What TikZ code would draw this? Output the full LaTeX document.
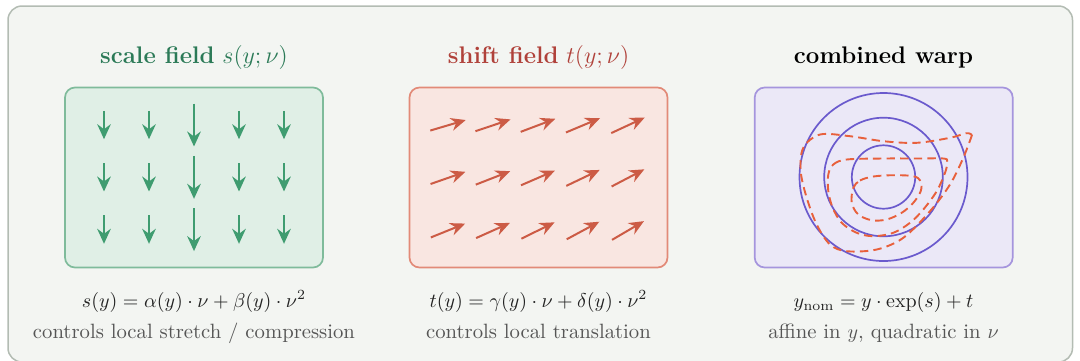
\documentclass[tikz,border=0pt]{standalone}
\usetikzlibrary{arrows.meta}
\definecolor{framefill}{HTML}{F3F5F2}
\definecolor{framedraw}{HTML}{B3BCB3}
\definecolor{sfill}{HTML}{E0EFE6}
\definecolor{sdraw}{HTML}{7FBB9B}
\definecolor{sarrow}{HTML}{3F9C70}
\definecolor{stitle}{HTML}{2B7A57}
\definecolor{tfill}{HTML}{F9E6E1}
\definecolor{tdraw}{HTML}{E28A78}
\definecolor{tarrow}{HTML}{CC5B45}
\definecolor{ttitle}{HTML}{B0413A}
\definecolor{cfill}{HTML}{EBE8F7}
\definecolor{cdraw}{HTML}{A595DD}
\definecolor{ccircle}{HTML}{6A5ACD}
\definecolor{cdash}{HTML}{E8603C}
\definecolor{subgray}{HTML}{555555}
\definecolor{formula}{HTML}{222222}
\begin{document}
\begin{tikzpicture}[x=0.5pt,y=-0.5pt,
  panel/.style={rounded corners=5pt, line width=0.85pt, minimum width=129pt, minimum height=90pt, inner sep=0pt},
  titletext/.style={anchor=base, font=\large},
  formtext/.style={anchor=base, text=formula},
  subtext/.style={anchor=base, text=subgray, font=\fontsize{10.35}{12.5}\selectfont},
  sarr/.style={draw=sarrow, line width=1pt, -{Stealth[length=7.5pt,width=6.8pt,inset=2.5pt]}},
  tarr/.style={draw=tarrow, line width=1pt, -{Stealth[length=7.5pt,width=6.5pt,inset=2.5pt]}},
  ring/.style={draw=ccircle, line width=0.85pt},
  warp/.style={draw=cdash, line width=0.95pt, dash pattern=on 4.2pt off 2.6pt}
]
\useasboundingbox (0,0) rectangle (1080,360);
\draw[draw=framedraw, fill=framefill, line width=0.75pt, rounded corners=7pt] (8,6) rectangle (1072.5,362);

% panels
\node[panel, draw=sdraw, fill=sfill] (sp) at (194,177.5) {};
\node[panel, draw=tdraw, fill=tfill] (tp) at (538.5,177.5) {};
\node[panel, draw=cdraw, fill=cfill] (cp) at (883.7,177.5) {};

% titles
\node[titletext, text=stitle] (st) at (194,63) {\textbf{scale field} $s(y;\nu)$};
\node[titletext, text=ttitle] (tt) at (538.5,63) {\textbf{shift field} $t(y;\nu)$};
\node[titletext, text=black] (ct) at (883.5,63) {\textbf{combined warp}};

% formulas
\node[formtext] (sf) at (194,307) {$s(y) = \alpha(y)\cdot\nu + \beta(y)\cdot\nu^2$};
\node[formtext] (tf) at (538.5,307) {$t(y) = \gamma(y)\cdot\nu + \delta(y)\cdot\nu^2$};
\node[formtext] (cf) at (883.5,307) {$y_{\mathrm{nom}} = y\cdot\exp(s) + t$};

% subtitles
\node[subtext] (ss) at (194,338) {controls local stretch / compression};
\node[subtext] (ts) at (538.5,338) {controls local translation};
\node[subtext] (cs) at (883.5,338) {affine in $y$, quadratic in $\nu$};

% scale field arrows
\foreach \i in {0,...,4} \foreach \j in {0,1,2} {
  \pgfmathsetmacro\cx{104+45*\i}
  \pgfmathsetmacro\cy{125+52.3*\j}
  \pgfmathsetmacro\h{(\i==2) ? 21.5 : 14.2}
  \draw[sarr] ({\cx},{\cy-\h}) -- ({\cx},{\cy+\h});
}

% shift field arrows
\foreach \i in {0,...,4} \foreach \j in {0,1,2} {
  \pgfmathsetmacro\cx{448+45*\i}
  \pgfmathsetmacro\cy{125.3+52.6*\j}
  \pgfmathsetmacro\ang{16.5+2.1*\i+2.75*\j}
  \draw[tarr] ({\cx-18.5*cos(\ang)},{\cy+18.5*sin(\ang)}) -- ({\cx+18.5*cos(\ang)},{\cy-18.5*sin(\ang)});
}

% combined warp
\coordinate (cc) at (883.5,177);
\draw[ring] (cc) circle[radius=84];
\draw[ring] (cc) circle[radius=59.3];
\draw[ring] (cc) circle[radius=31.7];
\begin{scope}[shift={(cc)}]
\draw[warp] plot[smooth, tension=0.55] coordinates {
  (88.5,-42) (79.8,-19.2) (66.5,7.5) (46.5,34.2) (19.8,60.8)
  (-6.8,72.5) (-36.8,74.2) (-53.5,67.5) (-66.8,47.5) (-76.8,20.8) (-82.8,-5.8)
  (-80.2,-29.2) (-63.5,-42.5) (-33.5,-40.8) (-0.2,-35.8) (33.2,-34.2) (66.5,-39.2)
  (83,-43.8) (88.5,-42)};
\draw[warp] plot[smooth cycle, tension=0.55] coordinates {
  (-55.2,-2.5) (-50.2,-12.5) (-36.8,-17.5) (-0.2,-18.5) (33.2,-18.5) (59.8,-18.5)
  (63.8,-15.2) (61.5,-4.2) (53.2,14.2) (39.8,32.5) (26.5,45.8) (9.8,55.8)
  (-10.2,59.2) (-26.8,55.8) (-41.8,45.8) (-50.8,30.8) (-55.2,14.2)};
\draw[warp] plot[smooth cycle, tension=0.55] coordinates {
  (-30.2,10.8) (-23.5,3.5) (-10.2,-0.5) (9.8,-1.8) (29.8,-0.8) (37.2,4.2)
  (37.2,14.2) (29.8,25.8) (18.2,35.8) (3.2,42.5) (-11.8,43.2) (-25.2,37.5)
  (-31.8,25.8)};
\end{scope}
\end{tikzpicture}
\end{document}
